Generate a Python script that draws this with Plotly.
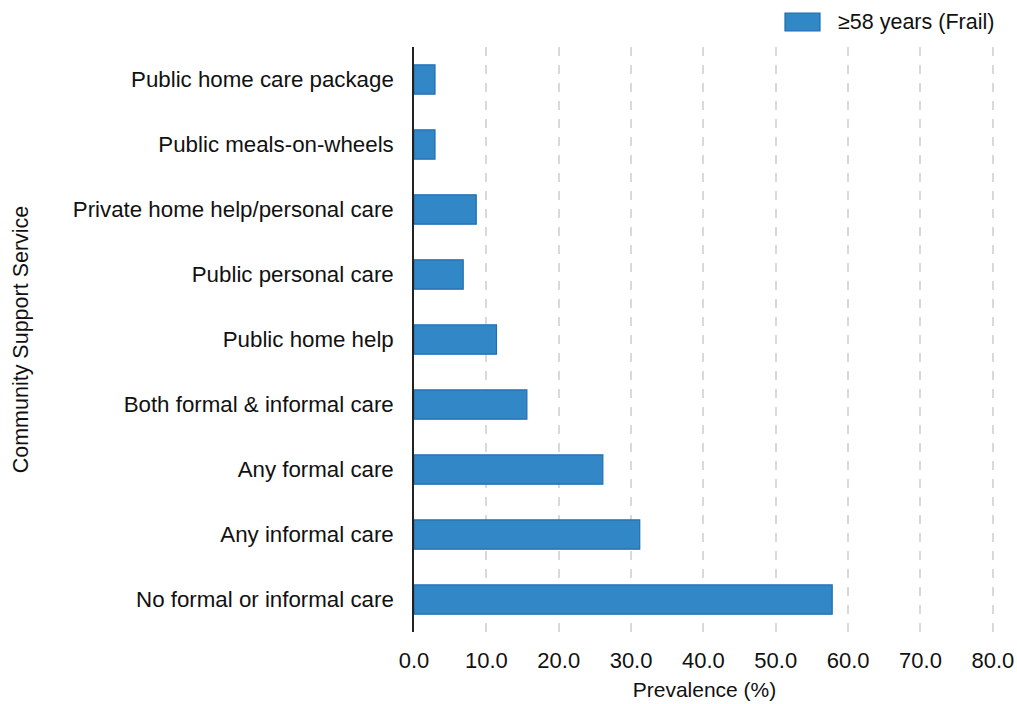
import plotly.graph_objects as go

categories = [
    "No formal or informal care",
    "Any informal care",
    "Any formal care",
    "Both formal & informal care",
    "Public home help",
    "Public personal care",
    "Private home help/personal care",
    "Public meals-on-wheels",
    "Public home care package",
]
values = [57.8, 31.2, 26.1, 15.6, 11.4, 6.8, 8.6, 2.9, 2.9]
series_name = "≥58 years (Frail)"
x_ticks = [0, 10, 20, 30, 40, 50, 60, 70, 80]

BAR_FILL = "#3288c6"
BAR_LINE = "#1f6db3"

fig = go.Figure()
fig.add_trace(go.Bar(
    y=categories, x=values, orientation="h", name=series_name,
    marker=dict(color=BAR_FILL, line=dict(color=BAR_LINE, width=1.2)),
    width=0.45, showlegend=False,
))

# legend swatch + label (drawn to match the larger swatch of the reference)
fig.add_shape(type="rect", xref="paper", yref="paper",
              x0=(785 - 414) / 581, x1=(820 - 414) / 581,
              y0=(632 - 31) / 585, y1=(632 - 13) / 585,
              fillcolor=BAR_FILL, line=dict(color=BAR_LINE, width=1.2))
fig.add_annotation(text=series_name, xref="paper", yref="paper",
                   x=(836 - 414) / 581, y=(632 - 22) / 585,
                   xanchor="left", yanchor="middle", showarrow=False,
                   font=dict(size=21.5))

fig.update_layout(
    width=1017, height=704,
    margin=dict(l=414, r=22, t=47, b=72, autoexpand=False),
    plot_bgcolor="white", paper_bgcolor="white",
    font=dict(family="Liberation Sans, Arial, sans-serif", color="#111111"),
    xaxis=dict(
        range=[0, 80.3], tickvals=x_ticks, ticktext=[f"{v:.1f}" for v in x_ticks],
        showgrid=True, gridcolor="#d9d9d9", griddash="dash", gridwidth=1.5,
        zeroline=False, showline=False, ticks="", tickfont=dict(size=22),
        ticklabelstandoff=13,
        title=dict(text="Prevalence (%)", font=dict(size=21), standoff=10),
    ),
    yaxis=dict(
        range=[-0.5, 8.5], showgrid=False, zeroline=False,
        showline=True, linecolor="#222222", linewidth=1.5,
        ticks="", tickfont=dict(size=22.3), ticklabelstandoff=14,
        title=dict(text="Community Support Service", font=dict(size=21.5), standoff=38),
    ),
)

fig.write_html("out.html", config={"displayModeBar": False},
               post_script="document.body.style.margin='0';document.body.style.overflow='hidden';")
